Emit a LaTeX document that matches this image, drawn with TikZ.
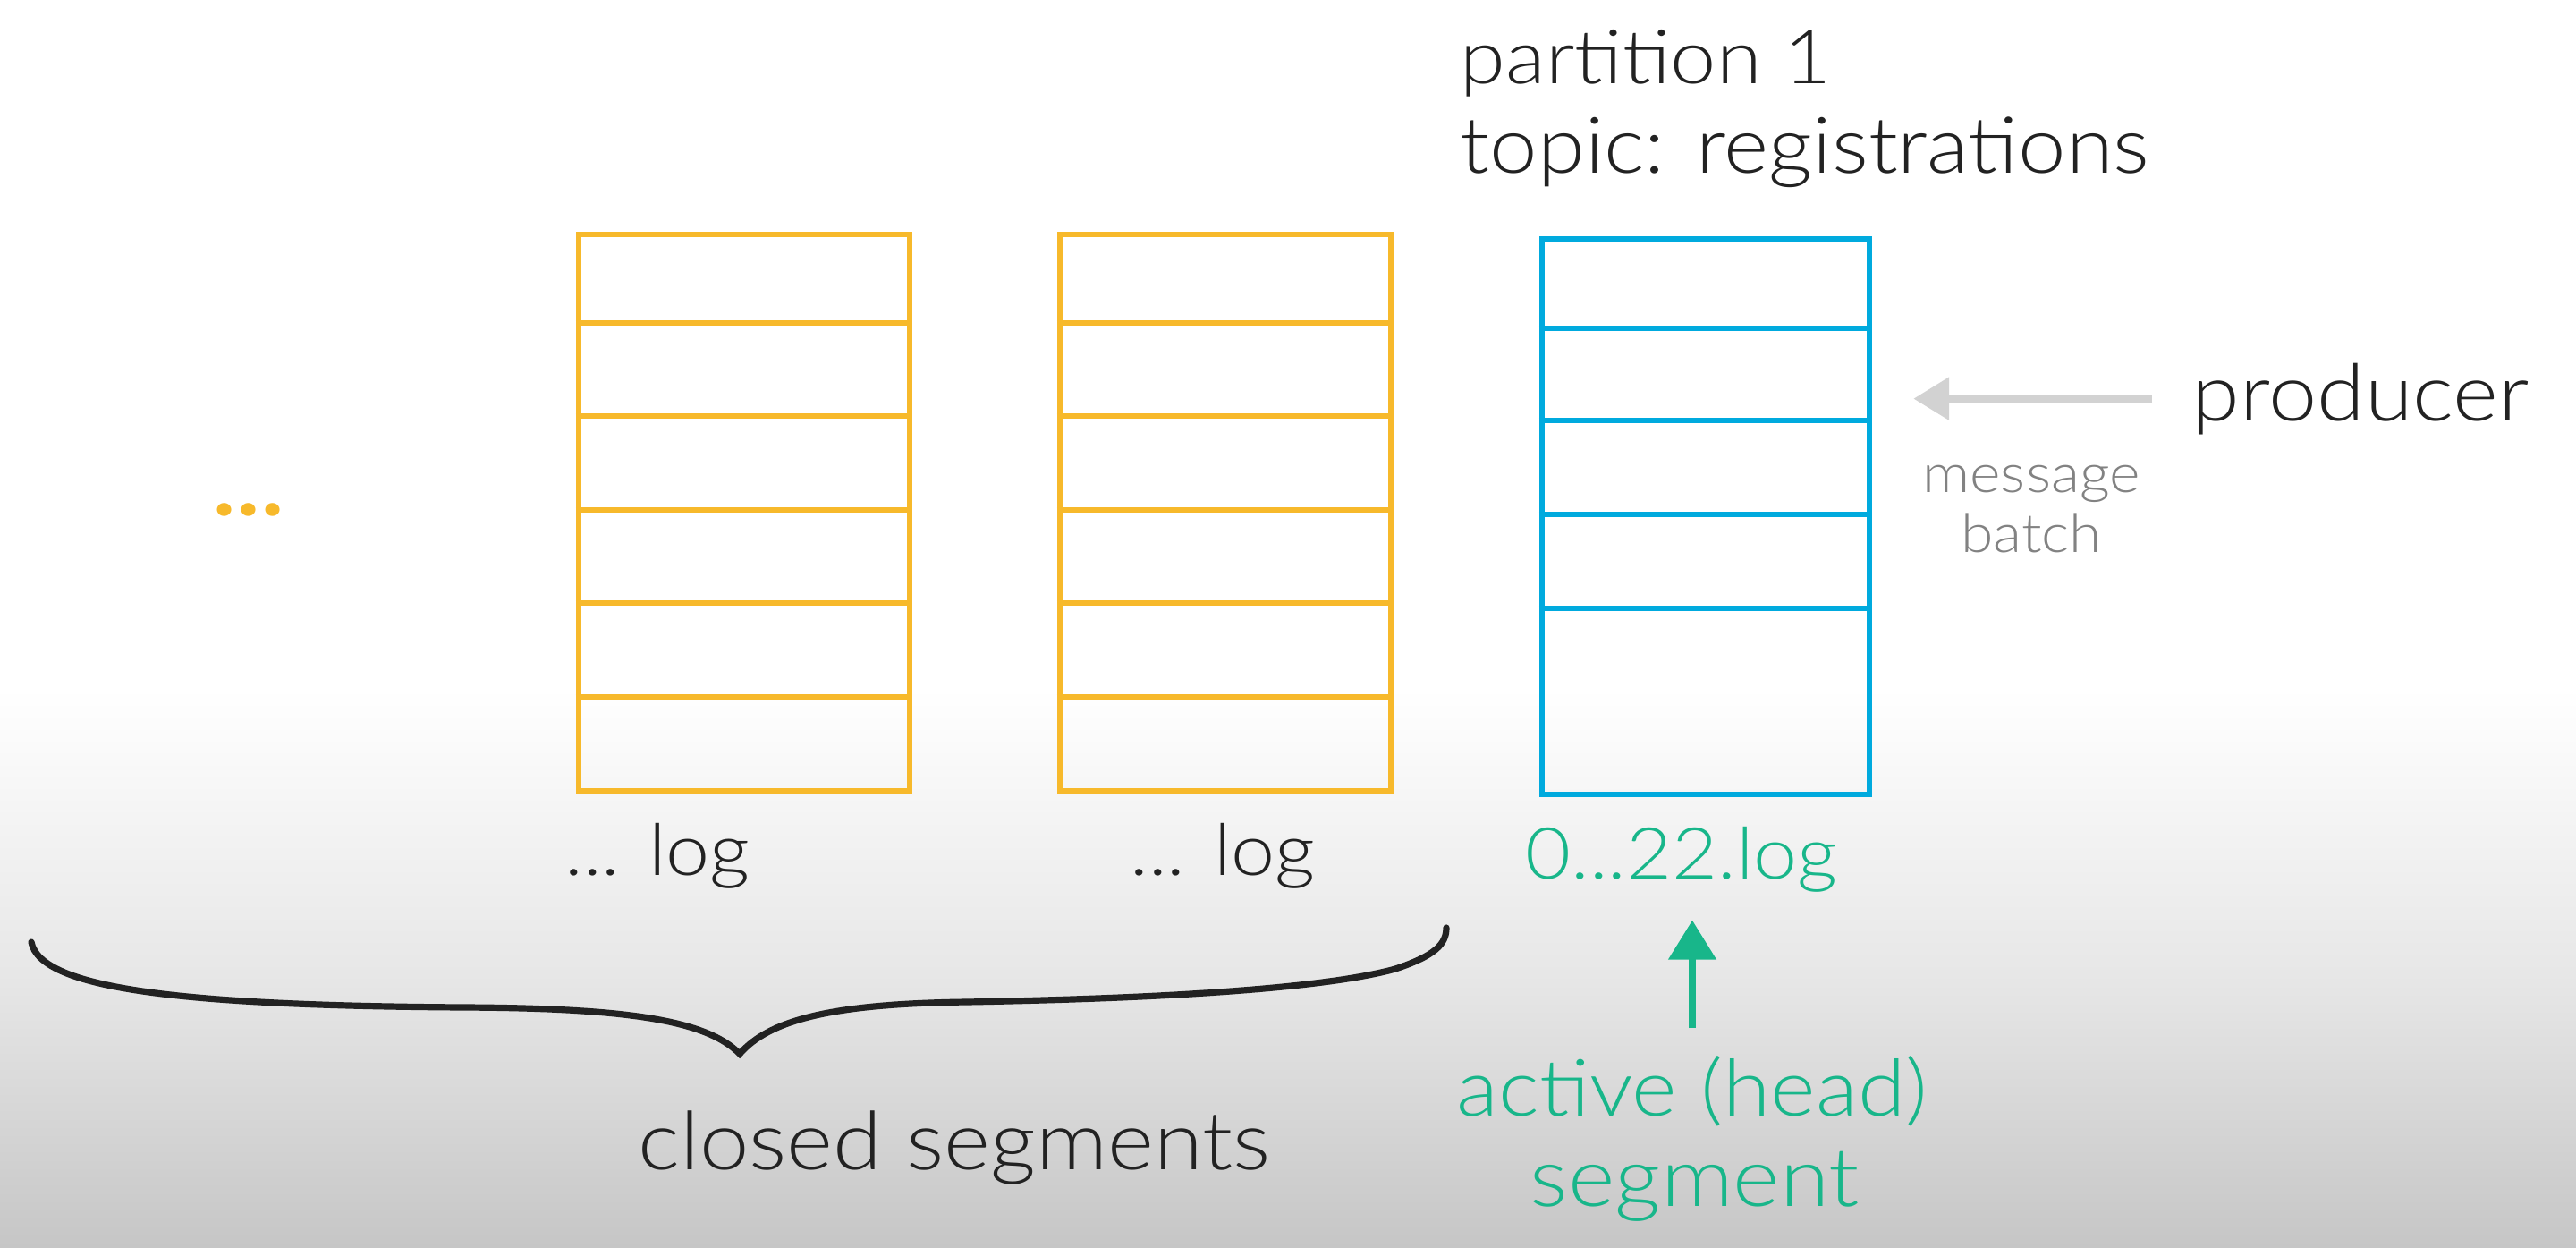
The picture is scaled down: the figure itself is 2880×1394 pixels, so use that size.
\documentclass[tikz,border=0pt]{standalone}
\usepackage{fontspec}
\setmainfont{Lato}[UprightFont=* Light, BoldFont=* Bold, FakeStretch=1.1]
\usetikzlibrary{arrows.meta}
\definecolor{segyellow}{RGB}{247,185,43}
\definecolor{segblue}{RGB}{0,170,222}
\definecolor{actgreen}{RGB}{24,182,138}
\definecolor{txtdark}{RGB}{34,34,34}
\definecolor{arrgrey}{RGB}{210,210,210}
\definecolor{msggrey}{RGB}{130,130,130}
\definecolor{bgmid}{RGB}{230,230,230}
\definecolor{bgbot}{RGB}{198,198,198}
\begin{document}
\begin{tikzpicture}[x=0.25pt,y=-0.25pt,
  segbox/.style={draw, line width=1.6pt, minimum width=92.5pt, minimum height=155.5pt, inner sep=0pt},
  rowline/.style={line width=1.6pt},
  txt/.style={font=\fontsize{21.8pt}{26pt}\selectfont, text=txtdark, inner sep=0pt},
  msgtxt/.style={font=\fontsize{15pt}{18pt}\selectfont, text=msggrey, inner sep=0pt},
  greytip/.style={draw=arrgrey, line width=2.3pt, -{Triangle[length=10pt,width=11.5pt]}},
  greentip/.style={draw=actgreen, line width=2pt, -{Triangle[length=11pt,width=13pt]}},
  bracestyle/.style={draw=txtdark, line width=1.8pt, line cap=round}]
\useasboundingbox (0,0) rectangle (2880,1394);
% background
\fill[white] (0,0) rectangle (2880,770);
\shade[top color=white, bottom color=bgmid] (0,769) rectangle (2880,1100);
\shade[top color=bgmid, bottom color=bgbot] (0,1099) rectangle (2880,1394);

% segments
\node[segbox, draw=segyellow] (seg1) at (832,573) {};
\node[segbox, draw=segyellow] (seg2) at (1370,573) {};
\node[segbox, draw=segblue, minimum width=91.5pt, minimum height=155.25pt] (active) at (1907,577.5) {};
\foreach \yy in {361,465,570,674,779} {
  \draw[rowline, segyellow] (seg1.west |- 0,\yy) -- (seg1.east |- 0,\yy);
  \draw[rowline, segyellow] (seg2.west |- 0,\yy) -- (seg2.east |- 0,\yy);
}
\foreach \yy in {367,470,575,680} {
  \draw[rowline, segblue] (active.west |- 0,\yy) -- (active.east |- 0,\yy);
}

% dots
\node[inner sep=0pt, text=segyellow, font=\bfseries\fontsize{24pt}{28pt}\selectfont, anchor=base] (dots) at (278,576) {.\kern0.5pt.\kern0.5pt.};

% titles
\node[txt, font=\fontsize{20.9pt}{25pt}\selectfont, anchor=base west] (part) at (1632,93) {partition 1};
\node[txt, anchor=base west] (topic) at (1632,193) {topic: registrations};

% producer
\node[txt, font=\fontsize{22.1pt}{26pt}\selectfont, anchor=base west] (producer) at (2450,470) {producer};
\draw[greytip, shorten <=11pt, shorten >=11.5pt] (producer.west) -- (producer.west -| active.east);
\node[msgtxt, anchor=base] (msgA) at (2271,550) {message};
\node[msgtxt, anchor=base] (msgB) at (2271,617) {batch};

% log labels
\node[txt, font=\fontsize{20pt}{24pt}\selectfont, anchor=base] (log1) at (735,978) {... log};
\node[txt, font=\fontsize{20pt}{24pt}\selectfont, anchor=base] (log2) at (1367,978) {... log};
\node[txt, font=\fontsize{20pt}{24pt}\selectfont, text=actgreen, anchor=base] (log3) at (1880,982) {0...22.log};

% active label
\node[txt, font=\fontsize{22pt}{26pt}\selectfont, text=actgreen, anchor=base] (actA) at (1892,1247) {active (head)};
\node[txt, font=\fontsize{22.8pt}{27pt}\selectfont, text=actgreen, anchor=base] (actB) at (1895,1348) {segment};
\draw[greentip, shorten <=7.5pt, shorten >=7.75pt] (actA.north) -- (actA.north |- log3.south);

% brace
\node[txt, font=\fontsize{22.6pt}{27pt}\selectfont, anchor=base] (closed) at (1067,1307) {closed segments};
\draw[bracestyle] (35,1053) .. controls (45,1105) and (200,1124) .. (520,1126)
  .. controls (700,1127) and (790,1140) .. (827,1178)
  .. controls (860,1140) and (930,1122) .. (1080,1120)
  .. controls (1300,1116) and (1480,1105) .. (1560,1083)
  .. controls (1605,1068) and (1617,1055) .. (1617,1037);
\end{tikzpicture}
\end{document}
